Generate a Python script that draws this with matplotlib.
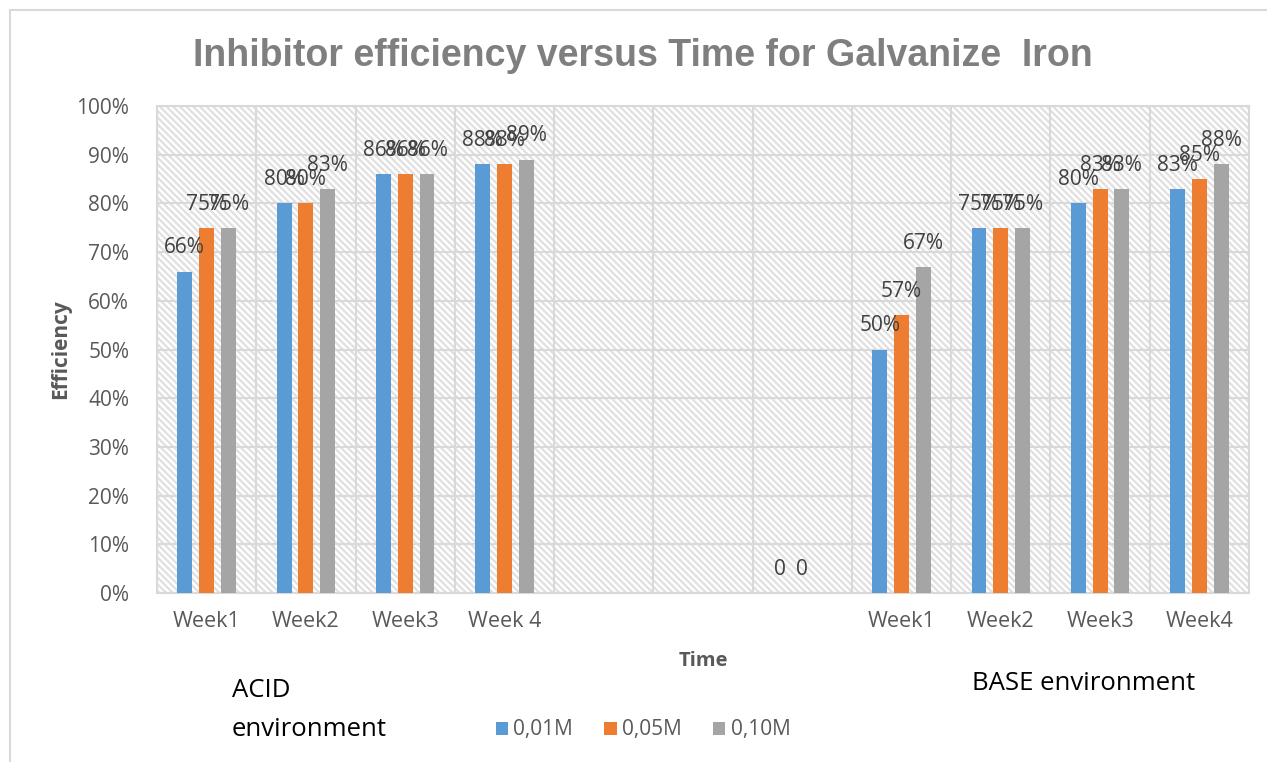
import numpy as np
import matplotlib
matplotlib.use("Agg")
import matplotlib.pyplot as plt
from matplotlib.patches import Rectangle
from matplotlib.lines import Line2D
from matplotlib.ticker import PercentFormatter, FixedLocator

plt.rcParams['font.family'] = ['Open Sans', 'DejaVu Sans']
plt.rcParams['hatch.linewidth'] = 1.6

# categories along the x axis (three empty slots between acid and base)
categories = ["Week1", "Week2", "Week3", "Week 4", "", "", "",
              "Week1", "Week2", "Week3", "Week4"]
series_names = ["0,01M", "0,05M", "0,10M"]
# efficiency in %, None = no bar
eff_001 = [66, 80, 86, 88, None, None, 0, 50, 75, 80, 83]
eff_005 = [75, 80, 86, 88, None, None, 0, 57, 75, 83, 85]
eff_010 = [75, 83, 86, 89, None, None, None, 67, 75, 83, 88]
colors = ["#5b9bd5", "#ed7d31", "#a5a5a5"]

fig = plt.figure(figsize=(12.67, 7.62), dpi=100)
ax = fig.add_axes([157 / 1267, 1 - 593 / 762, 1092 / 1267, 487 / 762])

# hatched plot background
ax.add_patch(Rectangle((0, 0), 1, 1, transform=ax.transAxes, facecolor="white",
                       edgecolor="#e0e0e0", hatch="\\" * 5, linewidth=0, zorder=0))

x = np.arange(len(categories))
offsets = [-0.22, 0, 0.22]
for vals, name, col, off in zip([eff_001, eff_005, eff_010], series_names, colors, offsets):
    xs = [xi + off for xi, v in zip(x, vals) if v is not None]
    ys = [v / 100 for v in vals if v is not None]
    ax.bar(xs, ys, width=0.15, color=col, label=name, zorder=3)
    for xi, v in zip(xs, [v for v in vals if v is not None]):
        txt = "0" if v == 0 else f"{v}%"
        ax.annotate(txt, (xi, v / 100), xytext=(0, 17), textcoords="offset points",
                    ha="center", va="center", fontsize=15, color="#404040", zorder=4)

ax.set_xlim(-0.5, len(categories) - 0.5)
ax.set_ylim(0, 1)
ax.yaxis.set_major_locator(FixedLocator(np.arange(0, 1.01, 0.1)))
ax.yaxis.set_major_formatter(PercentFormatter(1.0, decimals=0))
ax.set_xticks(x)
ax.set_xticklabels(categories)
ax.set_xticks(np.arange(-0.5, len(categories), 1), minor=True)
ax.tick_params(axis="both", which="both", length=0, labelcolor="#595959")
ax.tick_params(axis="x", labelsize=15.5, pad=13)
ax.tick_params(axis="y", labelsize=15, pad=20)
ax.grid(axis="y", which="major", color="#d9d9d9", linewidth=1.5, zorder=1)
ax.grid(axis="x", which="minor", color="#d9d9d9", linewidth=1.5, zorder=1)
ax.set_axisbelow(True)
for s in ax.spines.values():
    s.set_color("#d9d9d9")
    s.set_linewidth(1.5)

ax.set_ylabel("Efficiency", fontsize=15, fontweight="bold", color="#595959", labelpad=4)
fig.text(703 / 1267, 1 - 661 / 762, "Time", fontsize=14.5, fontweight="bold",
         color="#595959", ha="center", va="center")

fig.text(643 / 1267, 1 - 56 / 762, "Inhibitor efficiency versus Time for Galvanize  Iron",
         family="Liberation Sans", fontsize=27, fontweight="bold", color="#7f7f7f",
         ha="center", va="center")

fig.text(232 / 1267, 1 - 710 / 762, "ACID\nenvironment", fontsize=18.5, color="black",
         ha="left", va="center", linespacing=1.7)
fig.text(972 / 1267, 1 - 683 / 762, "BASE environment", fontsize=18.5, color="black",
         ha="left", va="center")

ax.legend(loc="center", bbox_to_anchor=(643 / 1267, 1 - 730 / 762),
          bbox_transform=fig.transFigure, ncol=3, frameon=False, fontsize=15,
          handlelength=0.6, handleheight=0.6, handletextpad=0.25, columnspacing=1.5,
          labelcolor="#595959")

# chart frame
fig.add_artist(Line2D([10 / 1267, 10 / 1267], [0, 1 - 10 / 762], color="#d9d9d9", lw=1.5))
fig.add_artist(Line2D([10 / 1267, 1], [1 - 10 / 762, 1 - 10 / 762], color="#d9d9d9", lw=1.5))

fig.savefig("out.png", dpi=100)
